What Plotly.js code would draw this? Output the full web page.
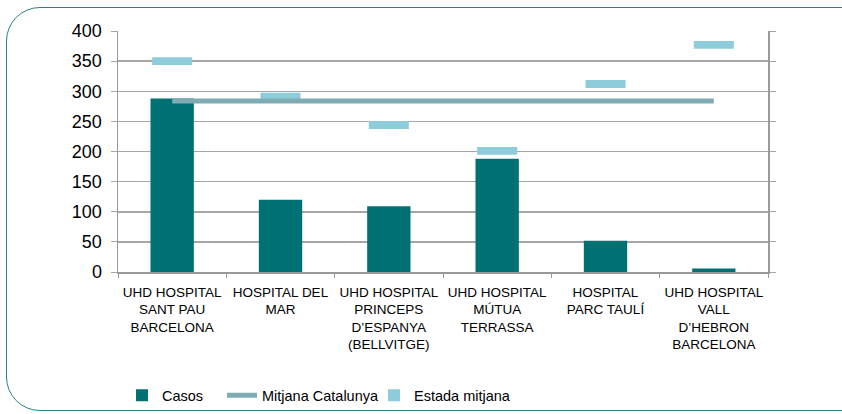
<!DOCTYPE html>
<html>
<head>
<meta charset="utf-8">
<script src="https://cdn.plot.ly/plotly-3.0.1.min.js"></script>
<style>
  html, body { margin:0; padding:0; background:#fff; overflow:hidden; }
  #frame { position:absolute; left:6px; top:7px; width:870px; height:404px;
           border:1.5px solid #2a8084; border-radius:34px; box-sizing:border-box; }
  #chart { position:absolute; left:0; top:0; width:842px; height:414px; }
</style>
</head>
<body>
<div id="frame"></div>
<div id="chart"></div>
<script>
const categories = [
  'UHD HOSPITAL<br>SANT PAU<br>BARCELONA',
  'HOSPITAL DEL<br>MAR',
  'UHD HOSPITAL<br>PRINCEPS<br>D\u2019ESPANYA<br>(BELLVITGE)',
  'UHD HOSPITAL<br>MÚTUA<br>TERRASSA',
  'HOSPITAL<br>PARC TAULÍ',
  'UHD HOSPITAL<br>VALL<br>D\u2019HEBRON<br>BARCELONA'
];
const casos = [288, 120, 109, 188, 52, 6];
const mitjanaCatalunya = [284, 284, 284, 284, 284, 284];
const estadaMitjana = [350, 291, 244, 201, 312, 377];

const FONT = '"Liberation Sans", Arial, sans-serif';
const markerHalf = 6.5;

const traces = [
  { type:'bar', name:'Casos', x:categories, y:casos, width:0.4,
    marker:{color:'#007172'}, legend:'legend' },
  { type:'scatter', mode:'lines', name:'Mitjana Catalunya', x:categories, y:mitjanaCatalunya,
    line:{color:'#7eacb2', width:5}, legend:'legend2' },
  { type:'bar', name:'Estada mitjana', x:categories,
    y:estadaMitjana.map(() => 2*markerHalf),
    base:estadaMitjana.map(v => v - markerHalf), width:0.37,
    marker:{color:'#8dcddb'}, hoverinfo:'skip', legend:'legend3' }
];

function leg(x) {
  return {orientation:'h', xref:'container', yref:'container',
          x:x, xanchor:'left', y:0.045, yanchor:'middle',
          font:{size:14.5, family:FONT}, bgcolor:'rgba(0,0,0,0)'};
}

const layout = {
  width:842, height:414,
  margin:{l:118, r:74, t:31, b:142},
  paper_bgcolor:'rgba(0,0,0,0)', plot_bgcolor:'rgba(0,0,0,0)',
  barmode:'overlay',
  font:{family:FONT, color:'#000'},
  showlegend:true,
  legend:leg(122/842),
  legend2:leg(222/842),
  legend3:leg(374/842),
  xaxis:{type:'category', showgrid:false, showline:true, linecolor:'#999', linewidth:1.5,
         ticks:'outside', tickson:'boundaries', ticklen:4, tickcolor:'#999', tickangle:0,
         ticklabelstandoff:7,
         tickfont:{size:13.5, family:FONT}, automargin:false},
  yaxis:{range:[0,400], dtick:50, showgrid:true, gridcolor:'#a6a6a6', gridwidth:1.5,
         showline:true, linecolor:'#999', linewidth:1.5, mirror:'ticks',
         ticks:'outside', ticklen:6, tickcolor:'#a6a6a6', ticklabelstandoff:5,
         zeroline:false, tickfont:{size:18, family:FONT}, automargin:false}
};

Plotly.newPlot('chart', traces, layout, {displayModeBar:false, staticPlot:true});
</script>
</body>
</html>
